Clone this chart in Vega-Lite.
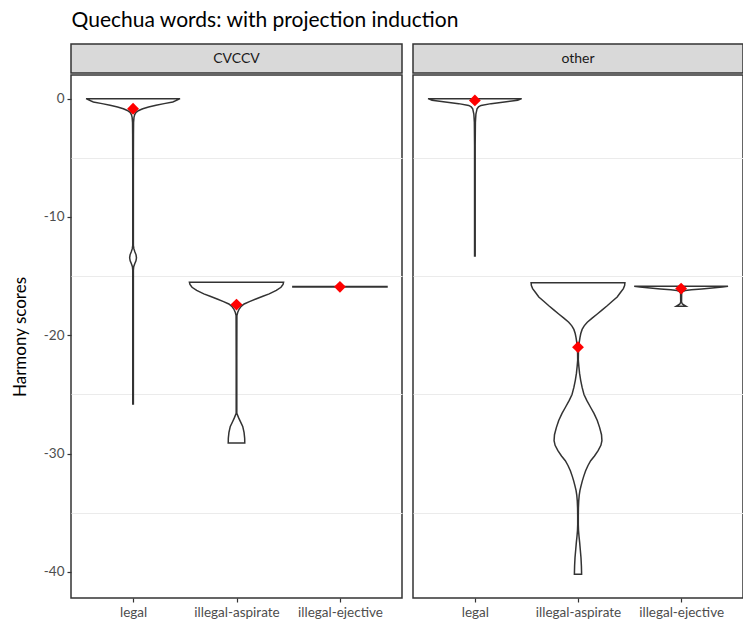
{
  "$schema": "https://vega.github.io/schema/vega-lite/v6.json",
  "background": "white",
  "padding": {"left": 10, "top": 10, "right": 0, "bottom": 2},
  "title": {
    "text": "Quechua words: with projection induction",
    "anchor": "start",
    "font": "Lato",
    "fontSize": 21,
    "fontWeight": "normal",
    "color": "#000000",
    "offset": 12,
    "dx": 61
  },
  "config": {
    "font": "Lato",
    "view": {"stroke": "#333333", "strokeWidth": 1.5},
    "axis": {
      "labelFont": "Lato",
      "labelFontSize": 13.5,
      "labelColor": "#4d4d4d",
      "tickColor": "#333333",
      "tickSize": 4,
      "tickWidth": 1.2,
      "domain": false,
      "titleFont": "Lato",
      "titleFontSize": 17,
      "titleFontWeight": "normal",
      "titleColor": "#000000",
      "labelPadding": 3,
      "gridColor": "#ebebeb",
      "gridWidth": 1
    }
  },
  "datasets": {
    "violins": [
      {"panel": "CVCCV", "cat": "legal", "v": 0, "w": 0.454},
      {"panel": "CVCCV", "cat": "legal", "v": -0.1, "w": 0.43},
      {"panel": "CVCCV", "cat": "legal", "v": -0.28, "w": 0.384},
      {"panel": "CVCCV", "cat": "legal", "v": -0.42, "w": 0.3},
      {"panel": "CVCCV", "cat": "legal", "v": -0.56, "w": 0.222},
      {"panel": "CVCCV", "cat": "legal", "v": -0.7, "w": 0.15},
      {"panel": "CVCCV", "cat": "legal", "v": -0.85, "w": 0.094},
      {"panel": "CVCCV", "cat": "legal", "v": -1.0, "w": 0.055},
      {"panel": "CVCCV", "cat": "legal", "v": -1.16, "w": 0.029},
      {"panel": "CVCCV", "cat": "legal", "v": -1.35, "w": 0.016},
      {"panel": "CVCCV", "cat": "legal", "v": -1.58, "w": 0.009},
      {"panel": "CVCCV", "cat": "legal", "v": -2.0, "w": 0.005},
      {"panel": "CVCCV", "cat": "legal", "v": -3.0, "w": 0.004},
      {"panel": "CVCCV", "cat": "legal", "v": -6.0, "w": 0.003},
      {"panel": "CVCCV", "cat": "legal", "v": -10.0, "w": 0.003},
      {"panel": "CVCCV", "cat": "legal", "v": -12.4, "w": 0.003},
      {"panel": "CVCCV", "cat": "legal", "v": -12.7, "w": 0.008},
      {"panel": "CVCCV", "cat": "legal", "v": -12.95, "w": 0.018},
      {"panel": "CVCCV", "cat": "legal", "v": -13.2, "w": 0.029},
      {"panel": "CVCCV", "cat": "legal", "v": -13.45, "w": 0.033},
      {"panel": "CVCCV", "cat": "legal", "v": -13.7, "w": 0.028},
      {"panel": "CVCCV", "cat": "legal", "v": -13.95, "w": 0.016},
      {"panel": "CVCCV", "cat": "legal", "v": -14.2, "w": 0.006},
      {"panel": "CVCCV", "cat": "legal", "v": -14.5, "w": 0.003},
      {"panel": "CVCCV", "cat": "legal", "v": -18.0, "w": 0.003},
      {"panel": "CVCCV", "cat": "legal", "v": -22.0, "w": 0.003},
      {"panel": "CVCCV", "cat": "legal", "v": -25.8, "w": 0.003},

      {"panel": "CVCCV", "cat": "illegal-aspirate", "v": -15.52, "w": 0.455},
      {"panel": "CVCCV", "cat": "illegal-aspirate", "v": -15.7, "w": 0.45},
      {"panel": "CVCCV", "cat": "illegal-aspirate", "v": -15.94, "w": 0.43},
      {"panel": "CVCCV", "cat": "illegal-aspirate", "v": -16.2, "w": 0.385},
      {"panel": "CVCCV", "cat": "illegal-aspirate", "v": -16.5, "w": 0.316},
      {"panel": "CVCCV", "cat": "illegal-aspirate", "v": -16.7, "w": 0.255},
      {"panel": "CVCCV", "cat": "illegal-aspirate", "v": -16.93, "w": 0.187},
      {"panel": "CVCCV", "cat": "illegal-aspirate", "v": -17.15, "w": 0.125},
      {"panel": "CVCCV", "cat": "illegal-aspirate", "v": -17.35, "w": 0.074},
      {"panel": "CVCCV", "cat": "illegal-aspirate", "v": -17.55, "w": 0.045},
      {"panel": "CVCCV", "cat": "illegal-aspirate", "v": -17.78, "w": 0.026},
      {"panel": "CVCCV", "cat": "illegal-aspirate", "v": -18.05, "w": 0.012},
      {"panel": "CVCCV", "cat": "illegal-aspirate", "v": -18.34, "w": 0.004},
      {"panel": "CVCCV", "cat": "illegal-aspirate", "v": -22.0, "w": 0.003},
      {"panel": "CVCCV", "cat": "illegal-aspirate", "v": -26.6, "w": 0.003},
      {"panel": "CVCCV", "cat": "illegal-aspirate", "v": -27.0, "w": 0.022},
      {"panel": "CVCCV", "cat": "illegal-aspirate", "v": -27.3, "w": 0.038},
      {"panel": "CVCCV", "cat": "illegal-aspirate", "v": -27.7, "w": 0.06},
      {"panel": "CVCCV", "cat": "illegal-aspirate", "v": -28.2, "w": 0.073},
      {"panel": "CVCCV", "cat": "illegal-aspirate", "v": -28.7, "w": 0.079},
      {"panel": "CVCCV", "cat": "illegal-aspirate", "v": -29.1, "w": 0.08},

      {"panel": "CVCCV", "cat": "illegal-ejective", "v": -15.88, "w": 0.455},
      {"panel": "CVCCV", "cat": "illegal-ejective", "v": -15.92, "w": 0.455},

      {"panel": "other", "cat": "legal", "v": 0, "w": 0.454},
      {"panel": "other", "cat": "legal", "v": -0.14, "w": 0.415},
      {"panel": "other", "cat": "legal", "v": -0.28, "w": 0.287},
      {"panel": "other", "cat": "legal", "v": -0.42, "w": 0.157},
      {"panel": "other", "cat": "legal", "v": -0.57, "w": 0.06},
      {"panel": "other", "cat": "legal", "v": -0.7, "w": 0.035},
      {"panel": "other", "cat": "legal", "v": -0.85, "w": 0.021},
      {"panel": "other", "cat": "legal", "v": -1.3, "w": 0.01},
      {"panel": "other", "cat": "legal", "v": -2.0, "w": 0.005},
      {"panel": "other", "cat": "legal", "v": -4.0, "w": 0.003},
      {"panel": "other", "cat": "legal", "v": -9.0, "w": 0.003},
      {"panel": "other", "cat": "legal", "v": -13.3, "w": 0.003},

      {"panel": "other", "cat": "illegal-aspirate", "v": -15.55, "w": 0.455},
      {"panel": "other", "cat": "illegal-aspirate", "v": -15.8, "w": 0.452},
      {"panel": "other", "cat": "illegal-aspirate", "v": -16.05, "w": 0.44},
      {"panel": "other", "cat": "illegal-aspirate", "v": -16.4, "w": 0.41},
      {"panel": "other", "cat": "illegal-aspirate", "v": -16.76, "w": 0.38},
      {"panel": "other", "cat": "illegal-aspirate", "v": -17.1, "w": 0.335},
      {"panel": "other", "cat": "illegal-aspirate", "v": -17.5, "w": 0.283},
      {"panel": "other", "cat": "illegal-aspirate", "v": -17.85, "w": 0.235},
      {"panel": "other", "cat": "illegal-aspirate", "v": -18.2, "w": 0.187},
      {"panel": "other", "cat": "illegal-aspirate", "v": -18.55, "w": 0.137},
      {"panel": "other", "cat": "illegal-aspirate", "v": -18.9, "w": 0.09},
      {"panel": "other", "cat": "illegal-aspirate", "v": -19.2, "w": 0.06},
      {"panel": "other", "cat": "illegal-aspirate", "v": -19.5, "w": 0.04},
      {"panel": "other", "cat": "illegal-aspirate", "v": -19.85, "w": 0.027},
      {"panel": "other", "cat": "illegal-aspirate", "v": -20.2, "w": 0.019},
      {"panel": "other", "cat": "illegal-aspirate", "v": -20.6, "w": 0.012},
      {"panel": "other", "cat": "illegal-aspirate", "v": -21.0, "w": 0.007},
      {"panel": "other", "cat": "illegal-aspirate", "v": -21.5, "w": 0.004},
      {"panel": "other", "cat": "illegal-aspirate", "v": -22.1, "w": 0.003},
      {"panel": "other", "cat": "illegal-aspirate", "v": -22.6, "w": 0.008},
      {"panel": "other", "cat": "illegal-aspirate", "v": -23.2, "w": 0.015},
      {"panel": "other", "cat": "illegal-aspirate", "v": -23.8, "w": 0.026},
      {"panel": "other", "cat": "illegal-aspirate", "v": -24.4, "w": 0.04},
      {"panel": "other", "cat": "illegal-aspirate", "v": -25.0, "w": 0.058},
      {"panel": "other", "cat": "illegal-aspirate", "v": -25.5, "w": 0.085},
      {"panel": "other", "cat": "illegal-aspirate", "v": -26.1, "w": 0.123},
      {"panel": "other", "cat": "illegal-aspirate", "v": -26.6, "w": 0.155},
      {"panel": "other", "cat": "illegal-aspirate", "v": -27.2, "w": 0.187},
      {"panel": "other", "cat": "illegal-aspirate", "v": -27.8, "w": 0.21},
      {"panel": "other", "cat": "illegal-aspirate", "v": -28.4, "w": 0.228},
      {"panel": "other", "cat": "illegal-aspirate", "v": -28.9, "w": 0.232},
      {"panel": "other", "cat": "illegal-aspirate", "v": -29.3, "w": 0.222},
      {"panel": "other", "cat": "illegal-aspirate", "v": -29.75, "w": 0.195},
      {"panel": "other", "cat": "illegal-aspirate", "v": -30.2, "w": 0.16},
      {"panel": "other", "cat": "illegal-aspirate", "v": -30.6, "w": 0.123},
      {"panel": "other", "cat": "illegal-aspirate", "v": -31.0, "w": 0.097},
      {"panel": "other", "cat": "illegal-aspirate", "v": -31.45, "w": 0.074},
      {"panel": "other", "cat": "illegal-aspirate", "v": -31.9, "w": 0.056},
      {"panel": "other", "cat": "illegal-aspirate", "v": -32.3, "w": 0.042},
      {"panel": "other", "cat": "illegal-aspirate", "v": -32.7, "w": 0.03},
      {"panel": "other", "cat": "illegal-aspirate", "v": -33.1, "w": 0.019},
      {"panel": "other", "cat": "illegal-aspirate", "v": -33.5, "w": 0.012},
      {"panel": "other", "cat": "illegal-aspirate", "v": -34.0, "w": 0.007},
      {"panel": "other", "cat": "illegal-aspirate", "v": -34.6, "w": 0.004},
      {"panel": "other", "cat": "illegal-aspirate", "v": -35.3, "w": 0.003},
      {"panel": "other", "cat": "illegal-aspirate", "v": -36.0, "w": 0.003},
      {"panel": "other", "cat": "illegal-aspirate", "v": -36.5, "w": 0.005},
      {"panel": "other", "cat": "illegal-aspirate", "v": -37.0, "w": 0.01},
      {"panel": "other", "cat": "illegal-aspirate", "v": -37.5, "w": 0.016},
      {"panel": "other", "cat": "illegal-aspirate", "v": -38.1, "w": 0.022},
      {"panel": "other", "cat": "illegal-aspirate", "v": -38.8, "w": 0.029},
      {"panel": "other", "cat": "illegal-aspirate", "v": -39.5, "w": 0.033},
      {"panel": "other", "cat": "illegal-aspirate", "v": -40.2, "w": 0.035},

      {"panel": "other", "cat": "illegal-ejective", "v": -15.85, "w": 0.455},
      {"panel": "other", "cat": "illegal-ejective", "v": -15.92, "w": 0.4},
      {"panel": "other", "cat": "illegal-ejective", "v": -16.0, "w": 0.3},
      {"panel": "other", "cat": "illegal-ejective", "v": -16.08, "w": 0.2},
      {"panel": "other", "cat": "illegal-ejective", "v": -16.15, "w": 0.1},
      {"panel": "other", "cat": "illegal-ejective", "v": -16.22, "w": 0.04},
      {"panel": "other", "cat": "illegal-ejective", "v": -16.3, "w": 0.015},
      {"panel": "other", "cat": "illegal-ejective", "v": -16.45, "w": 0.005},
      {"panel": "other", "cat": "illegal-ejective", "v": -17.2, "w": 0.004},
      {"panel": "other", "cat": "illegal-ejective", "v": -17.35, "w": 0.012},
      {"panel": "other", "cat": "illegal-ejective", "v": -17.45, "w": 0.03},
      {"panel": "other", "cat": "illegal-ejective", "v": -17.55, "w": 0.048}
    ],
    "means": [
      {"panel": "CVCCV", "cat": "legal", "v": -0.85},
      {"panel": "CVCCV", "cat": "illegal-aspirate", "v": -17.4},
      {"panel": "CVCCV", "cat": "illegal-ejective", "v": -15.9},
      {"panel": "other", "cat": "legal", "v": -0.15},
      {"panel": "other", "cat": "illegal-aspirate", "v": -21.0},
      {"panel": "other", "cat": "illegal-ejective", "v": -16.05}
    ]
  },
  "hconcat": [
    {
      "spacing": 0,
      "vconcat": [
        {
          "width": 331,
          "height": 29,
          "data": {"values": [{"panel": "CVCCV"}]},
          "view": {"fill": "#d9d9d9", "stroke": "#333333", "strokeWidth": 1.5},
          "mark": {"type": "text", "fontSize": 14, "color": "#1a1a1a", "font": "Lato"},
          "encoding": {"text": {"field": "panel", "type": "nominal"}}
        },
        {
          "width": 331,
          "height": 523,
          "encoding": {
            "y": {
              "field": "v",
              "type": "quantitative",
              "title": "Harmony scores",
              "scale": {"domain": [-42.2, 2.0], "nice": false, "zero": false},
              "axis": {
                "values": [0, -5, -10, -15, -20, -25, -30, -35, -40],
                "labelExpr": "datum.value % 10 === 0 ? '' + datum.value : ''",
                "tickOpacity": {"condition": {"test": "datum.value % 10 === 0", "value": 1}, "value": 0},
                "gridOpacity": {"condition": {"test": "datum.value % 10 === 0", "value": 0}, "value": 1},
                "titlePadding": 14
              }
            }
          },
          "layer": [
            {
              "data": {"name": "violins"},
              "transform": [
                {"filter": "datum.panel === 'CVCCV'"},
                {"calculate": "indexof(['legal','illegal-aspirate','illegal-ejective'], datum.cat) + 1", "as": "pos"},
                {"calculate": "datum.pos - datum.w", "as": "lo"},
                {"calculate": "datum.pos + datum.w", "as": "hi"}
              ],
              "mark": {"type": "area", "orient": "horizontal", "fill": "white", "stroke": "#333333", "strokeWidth": 1.5},
              "encoding": {
                "x": {
                  "field": "lo",
                  "type": "quantitative",
                  "scale": {"domain": [0.4, 3.6], "nice": false, "zero": false},
                  "axis": {
                    "values": [1, 2, 3],
                    "title": null,
                    "grid": false,
                    "labelExpr": "['legal','illegal-aspirate','illegal-ejective'][datum.value - 1]"
                  }
                },
                "x2": {"field": "hi"},
                "detail": {"field": "cat", "type": "nominal"}
              }
            },
            {
              "data": {"name": "means"},
              "transform": [
                {"filter": "datum.panel === 'CVCCV'"},
                {"calculate": "indexof(['legal','illegal-aspirate','illegal-ejective'], datum.cat) + 1", "as": "pos"}
              ],
              "mark": {"type": "point", "shape": "diamond", "filled": true, "color": "#ff0000", "size": 140, "opacity": 1},
              "encoding": {
                "x": {"field": "pos", "type": "quantitative"}
              }
            }
          ]
        }
      ]
    },
    {
      "spacing": 0,
      "vconcat": [
        {
          "width": 330,
          "height": 29,
          "data": {"values": [{"panel": "other"}]},
          "view": {"fill": "#d9d9d9", "stroke": "#333333", "strokeWidth": 1.5},
          "mark": {"type": "text", "fontSize": 14, "color": "#1a1a1a", "font": "Lato"},
          "encoding": {"text": {"field": "panel", "type": "nominal"}}
        },
        {
          "width": 330,
          "height": 523,
          "encoding": {
            "y": {
              "field": "v",
              "type": "quantitative",
              "title": null,
              "scale": {"domain": [-42.2, 2.0], "nice": false, "zero": false},
              "axis": {
                "values": [0, -5, -10, -15, -20, -25, -30, -35, -40],
                "labels": false,
                "ticks": false,
                "gridOpacity": {"condition": {"test": "datum.value % 10 === 0", "value": 0}, "value": 1}
              }
            }
          },
          "layer": [
            {
              "data": {"name": "violins"},
              "transform": [
                {"filter": "datum.panel === 'other'"},
                {"calculate": "indexof(['legal','illegal-aspirate','illegal-ejective'], datum.cat) + 1", "as": "pos"},
                {"calculate": "datum.pos - datum.w", "as": "lo"},
                {"calculate": "datum.pos + datum.w", "as": "hi"}
              ],
              "mark": {"type": "area", "orient": "horizontal", "fill": "white", "stroke": "#333333", "strokeWidth": 1.5},
              "encoding": {
                "x": {
                  "field": "lo",
                  "type": "quantitative",
                  "scale": {"domain": [0.4, 3.6], "nice": false, "zero": false},
                  "axis": {
                    "values": [1, 2, 3],
                    "title": null,
                    "grid": false,
                    "labelExpr": "['legal','illegal-aspirate','illegal-ejective'][datum.value - 1]"
                  }
                },
                "x2": {"field": "hi"},
                "detail": {"field": "cat", "type": "nominal"}
              }
            },
            {
              "data": {"name": "means"},
              "transform": [
                {"filter": "datum.panel === 'other'"},
                {"calculate": "indexof(['legal','illegal-aspirate','illegal-ejective'], datum.cat) + 1", "as": "pos"}
              ],
              "mark": {"type": "point", "shape": "diamond", "filled": true, "color": "#ff0000", "size": 140, "opacity": 1},
              "encoding": {
                "x": {"field": "pos", "type": "quantitative"}
              }
            }
          ]
        }
      ]
    }
  ],
  "spacing": 9
}
